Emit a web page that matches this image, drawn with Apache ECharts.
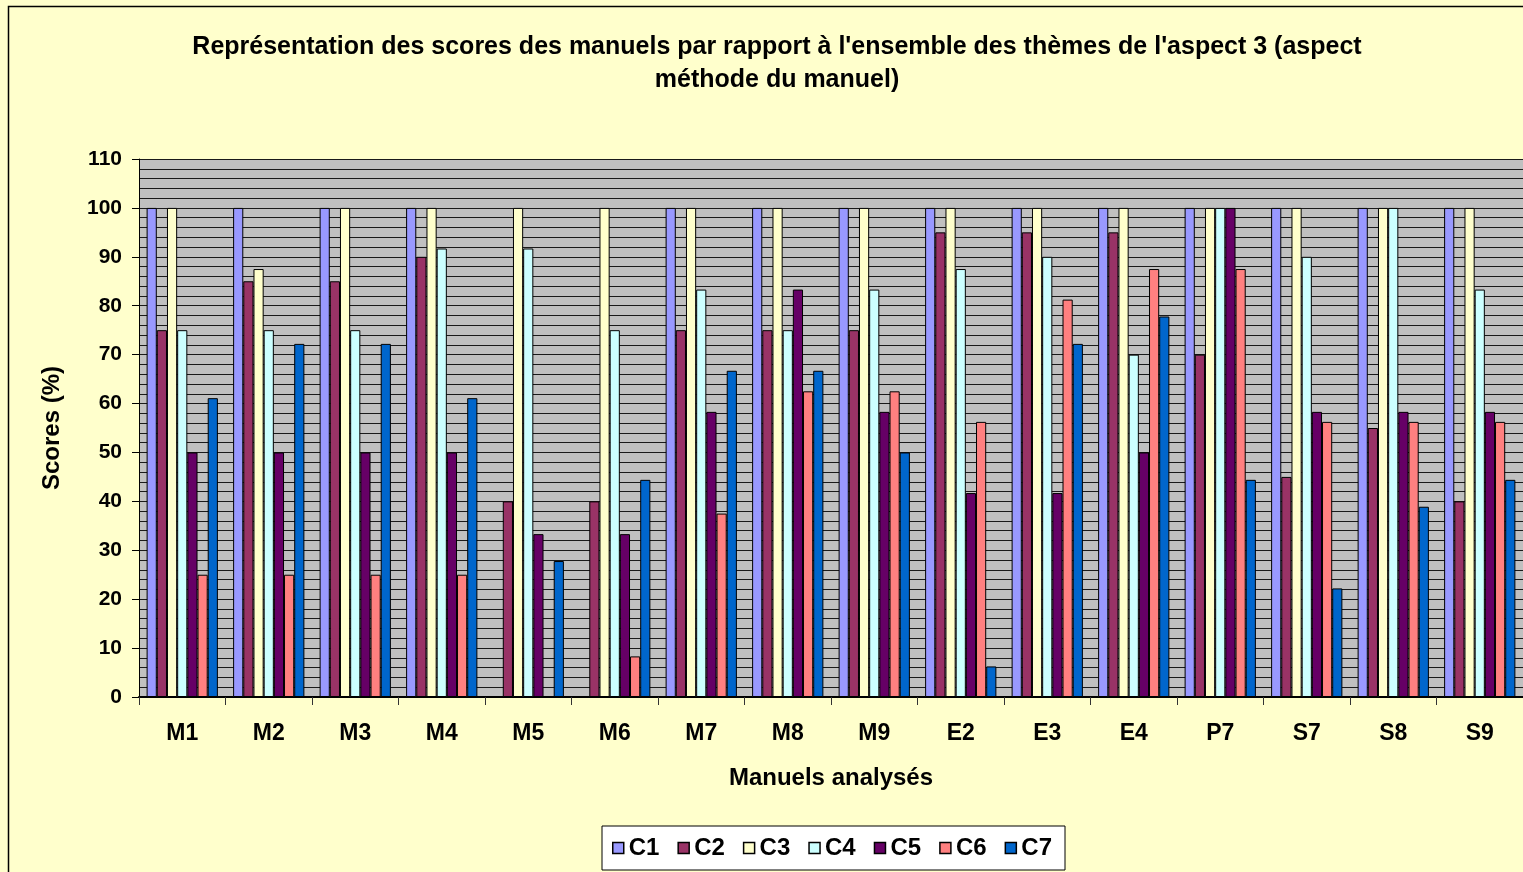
<!DOCTYPE html>
<html>
<head>
<meta charset="utf-8">
<script src="https://cdn.jsdelivr.net/npm/echarts@6/dist/echarts.min.js"></script>
<style>
  html, body { margin: 0; padding: 0; background: #FFFFCC; }
  #chart { width: 1523px; height: 872px; }
</style>
</head>
<body>
<div id="chart"></div>
<script>
// Textbooks analysed (x axis)
const manuels = ['M1', 'M2', 'M3', 'M4', 'M5', 'M6', 'M7', 'M8', 'M9', 'E2', 'E3', 'E4', 'P7', 'S7', 'S8', 'S9'];

// Scores (%) per criterion, one value per textbook
const C1 = [100, 100, 100, 100, 0, 0, 100, 100, 100, 100, 100, 100, 100, 100, 100, 100];
const C2 = [75, 85, 85, 90, 40, 40, 75, 75, 75, 95, 95, 95, 70, 45, 55, 40];
const C3 = [100, 87.5, 100, 100, 100, 100, 100, 100, 100, 100, 100, 100, 100, 100, 100, 100];
const C4 = [75, 75, 75, 91.7, 91.7, 75, 83.3, 75, 83.3, 87.5, 90, 70, 100, 90, 100, 83.3];
const C5 = [50, 50, 50, 50, 33.3, 33.3, 58.3, 83.3, 58.3, 41.7, 41.7, 50, 100, 58.3, 58.3, 58.3];
const C6 = [25, 25, 25, 25, 0, 8.3, 37.5, 62.5, 62.5, 56.25, 81.25, 87.5, 87.5, 56.25, 56.25, 56.25];
const C7 = [61.1, 72.2, 72.2, 61.1, 27.8, 44.4, 66.7, 66.7, 50, 6.25, 72.2, 77.8, 44.4, 22.2, 38.9, 44.4];

const seriesNames = ['C1', 'C2', 'C3', 'C4', 'C5', 'C6', 'C7'];
const seriesData = [C1, C2, C3, C4, C5, C6, C7];
const palette = ['#9999FF', '#993366', '#FFFFCC', '#CCFFFF', '#660066', '#FF8080', '#0066CC'];

const yTicks = { min: 0, max: 110, step: 10 };

const FONT = '"Liberation Sans", Arial, sans-serif';

const chart = echarts.init(document.getElementById('chart'), null, { renderer: 'canvas' });

chart.setOption({
  backgroundColor: '#FFFFCC',
  animation: false,
  color: palette,
  graphic: [{
    type: 'rect',
    shape: { x: 8.5, y: 6.5, width: 1600, height: 900 },
    style: { fill: 'none', stroke: '#000', lineWidth: 1.5 },
    silent: true,
    z: 0
  }],
  title: {
    text: "Représentation des scores des manuels par rapport à l'ensemble des thèmes de l'aspect 3 (aspect\nméthode du manuel)",
    left: 772,
    top: 26,
    textAlign: 'center',
    textStyle: {
      fontFamily: FONT,
      fontWeight: 'bold',
      fontSize: 25,
      lineHeight: 33,
      color: '#000'
    }
  },
  legend: {
    bottom: 2,
    left: 602,
    data: seriesNames,
    icon: 'rect',
    itemWidth: 11,
    itemHeight: 11,
    itemGap: 18,
    padding: [10, 13, 10, 10],
    backgroundColor: '#FFFFFF',
    borderColor: '#000',
    borderWidth: 1,
    textStyle: {
      fontFamily: FONT,
      fontWeight: 'bold',
      fontSize: 24,
      color: '#000'
    },
    itemStyle: { borderColor: '#000', borderWidth: 1.5 }
  },
  grid: {
    left: 139,
    top: 159,
    right: 0,
    bottom: 175,
    show: true,
    backgroundColor: '#C0C0C0',
    borderWidth: 0
  },
  xAxis: {
    type: 'category',
    data: manuels,
    name: 'Manuels analysés',
    nameLocation: 'middle',
    nameGap: 69,
    nameTextStyle: { fontFamily: FONT, fontWeight: 'bold', fontSize: 24, color: '#000' },
    axisLine: { lineStyle: { color: '#000', width: 2 } },
    axisTick: { show: true, alignWithLabel: false, length: 8, lineStyle: { color: '#333', width: 1 } },
    axisLabel: { fontFamily: FONT, fontWeight: 'bold', fontSize: 23, color: '#000', margin: 25 },
    splitLine: { show: false }
  },
  yAxis: {
    type: 'value',
    min: yTicks.min,
    max: yTicks.max,
    interval: yTicks.step,
    name: 'Scores (%)',
    nameLocation: 'middle',
    nameGap: 75,
    nameRotate: 90,
    nameTextStyle: { fontFamily: FONT, fontWeight: 'bold', fontSize: 24, color: '#000' },
    axisLine: { show: true, lineStyle: { color: '#000', width: 1 } },
    axisTick: { show: true, inside: false, length: 7, lineStyle: { color: '#000' } },
    axisLabel: { fontFamily: FONT, fontWeight: 'bold', fontSize: 21, color: '#000', margin: 17 },
    splitLine: { show: true, lineStyle: { color: '#1a1a1a', width: 1 } },
    minorTick: { show: false, splitNumber: 5 },
    minorSplitLine: { show: true, lineStyle: { color: '#1a1a1a', width: 1 } }
  },
  series: seriesNames.map((name, i) => ({
    name: name,
    type: 'bar',
    data: seriesData[i],
    barGap: '0%',
    barCategoryGap: '17.6%',
    itemStyle: { color: palette[i], borderColor: '#000', borderWidth: 1 }
  }))
});
</script>
</body>
</html>
